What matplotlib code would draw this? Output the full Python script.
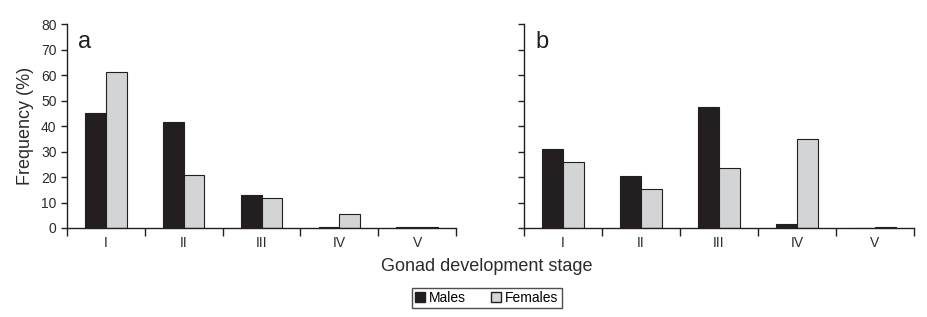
import matplotlib
matplotlib.use("Agg")
import matplotlib.pyplot as plt
import numpy as np
from matplotlib.patches import Patch

plt.rcParams['font.family'] = ['Liberation Sans', 'DejaVu Sans']

stages = ["I", "II", "III", "IV", "V"]
males_a = [45, 41.6, 13, 0.5, 0.5]
females_a = [61.3, 20.8, 11.7, 5.4, 0.5]
males_b = [31, 20.4, 47.5, 1.6, 0]
females_b = [25.8, 15.2, 23.4, 34.8, 0.4]
panels = ["a", "b"]

black = "#231f20"
gray = "#d3d4d6"
txt = "#2b2b2b"

fig = plt.figure(figsize=(9.27, 3.17), dpi=100)
axa = fig.add_axes([0.0723, 0.2808, 0.4196, 0.6425])
axb = fig.add_axes([0.5653, 0.2808, 0.4207, 0.6425])

w = 0.265
x = np.arange(len(stages)) + 0.5
for ax, m, f, lab in [(axa, males_a, females_a, panels[0]), (axb, males_b, females_b, panels[1])]:
    ax.bar(x - w / 2, m, width=w, color=black, edgecolor=black, linewidth=0.8)
    ax.bar(x + w / 2, f, width=w, color=gray, edgecolor=black, linewidth=0.8)
    ax.set_xlim(0, 5)
    ax.set_ylim(0, 80)
    ax.spines['top'].set_visible(False)
    ax.spines['right'].set_visible(False)
    for s in ['left', 'bottom']:
        ax.spines[s].set_linewidth(1.0)
        ax.spines[s].set_color(black)
    ax.set_xticks(np.arange(0, 6))
    ax.set_xticklabels([])
    ax.set_xticks(x, minor=True)
    ax.set_xticklabels(stages, minor=True, fontsize=10, color=txt)
    ax.tick_params(axis='x', which='major', length=6, direction='out', width=1, color=black)
    ax.tick_params(axis='x', which='minor', length=0, pad=6)
    ax.set_yticks(np.arange(0, 81, 10))
    ax.tick_params(axis='y', length=4, direction='out', width=1, labelsize=10, labelcolor=txt, color=black)
    ax.text(0.028, 0.965, lab, transform=ax.transAxes, fontsize=17, va='top', ha='left', color=black)

axb.set_yticklabels([])
axa.set_ylabel("Frequency (%)", fontsize=13, color=txt, labelpad=5)

fig.text(0.525, 0.158, "Gonad development stage", ha='center', va='center', fontsize=13, color=txt)

handles = [Patch(facecolor=black, edgecolor=black, label="Males"),
           Patch(facecolor=gray, edgecolor=black, label="Females")]
leg = fig.legend(handles=handles, loc='center', bbox_to_anchor=(0.525, 0.06), ncol=2,
                 frameon=True, fancybox=False, edgecolor=black, fontsize=10,
                 handlelength=0.7, handleheight=0.7, handletextpad=0.3, columnspacing=1.8,
                 borderpad=0.25)
leg.get_frame().set_linewidth(1.0)

fig.savefig("out.png", dpi=100)
